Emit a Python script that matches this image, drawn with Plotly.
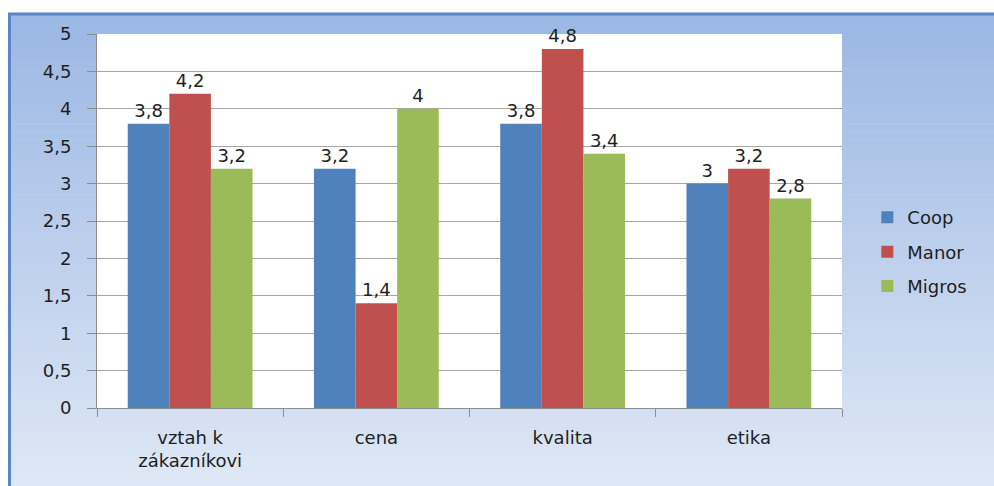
import plotly.graph_objects as go

categories = ["vztah k<br>zákazníkovi", "cena", "kvalita", "etika"]
series_names = ["Coop", "Manor", "Migros"]
coop = [3.8, 3.2, 3.8, 3.0]
manor = [4.2, 1.4, 4.8, 3.2]
migros = [3.2, 4.0, 3.4, 2.8]
colors = ["#4f81bd", "#c0504d", "#9bbb59"]
y_ticks = [0, 0.5, 1, 1.5, 2, 2.5, 3, 3.5, 4, 4.5, 5]

W, H = 994, 486
ML, MR, MT, MB = 97, 152, 34, 78
PW, PH = W - ML - MR, H - MT - MB
FONT = "DejaVu Sans"
FS = 18


def fmt(v):
    return ("%g" % v).replace(".", ",")


def px(x):
    return (x - ML) / PW


def py(y):
    return (H - MB - y) / PH


fig = go.Figure()
for i, (name, vals, col) in enumerate(zip(series_names, [coop, manor, migros], colors)):
    fig.add_trace(go.Bar(
        x=categories, y=vals, name=name, legendgroup="g%d" % i,
        marker=dict(color=col, line=dict(width=0)),
        text=[fmt(v) for v in vals], textposition="outside",
        textfont=dict(family=FONT, size=FS, color="#1e1e1e"),
        cliponaxis=False,
    ))

# gradient frame background
shapes = []
x0, x1, y0, y1 = 8, W, 13, H
n = 60
c_top = (155, 183, 228)
c_bot = (222, 231, 245)
for i in range(n):
    t = i / (n - 1)
    c = tuple(int(round(a + (b - a) * t)) for a, b in zip(c_top, c_bot))
    ya = y0 + (y1 - y0) * i / n
    yb = y0 + (y1 - y0) * (i + 1) / n + 0.5
    shapes.append(dict(type="rect", xref="paper", yref="paper",
                       x0=px(x0), x1=px(x1), y0=py(yb), y1=py(ya),
                       fillcolor="rgb(%d,%d,%d)" % c, line=dict(width=0),
                       layer="below"))
shapes.append(dict(type="line", xref="paper", yref="paper",
                   x0=px(x0), x1=px(x1), y0=py(14), y1=py(14),
                   line=dict(color="#5a85c6", width=3), layer="below"))
shapes.append(dict(type="line", xref="paper", yref="paper",
                   x0=px(9.5), x1=px(9.5), y0=py(13), y1=py(H),
                   line=dict(color="#5a85c6", width=3), layer="below"))
# white plot area
shapes.append(dict(type="rect", xref="paper", yref="paper",
                   x0=0, x1=1, y0=0, y1=1, fillcolor="white",
                   line=dict(width=0), layer="below"))

fig.update_layout(
    width=W, height=H,
    margin=dict(l=ML, r=MR, t=MT, b=MB),
    paper_bgcolor="white", plot_bgcolor="white",
    separators=", ",
    barmode="group", bargap=0.33, bargroupgap=0,
    font=dict(family=FONT, size=FS, color="#1e1e1e"),
    shapes=shapes,
    legend=dict(x=1.034, y=0.417, xanchor="left", yanchor="middle",
                bgcolor="rgba(0,0,0,0)", font=dict(size=FS),
                tracegroupgap=8, itemsizing="constant"),
    xaxis=dict(showgrid=False, showline=True, linecolor="#8c8c8c",
               ticks="outside", tickson="boundaries", ticklen=8,
               tickcolor="#8c8c8c", tickfont=dict(size=FS),
               ticklabelstandoff=13),
    yaxis=dict(range=[0, 5], tickvals=y_ticks, showgrid=True,
               gridcolor="#a6a6a6", gridwidth=1, showline=True,
               linecolor="#8c8c8c", ticks="outside", ticklen=9,
               tickcolor="#8c8c8c", zeroline=False, tickfont=dict(size=FS),
               ticklabelstandoff=12),
)

fig.write_html("out.html")
